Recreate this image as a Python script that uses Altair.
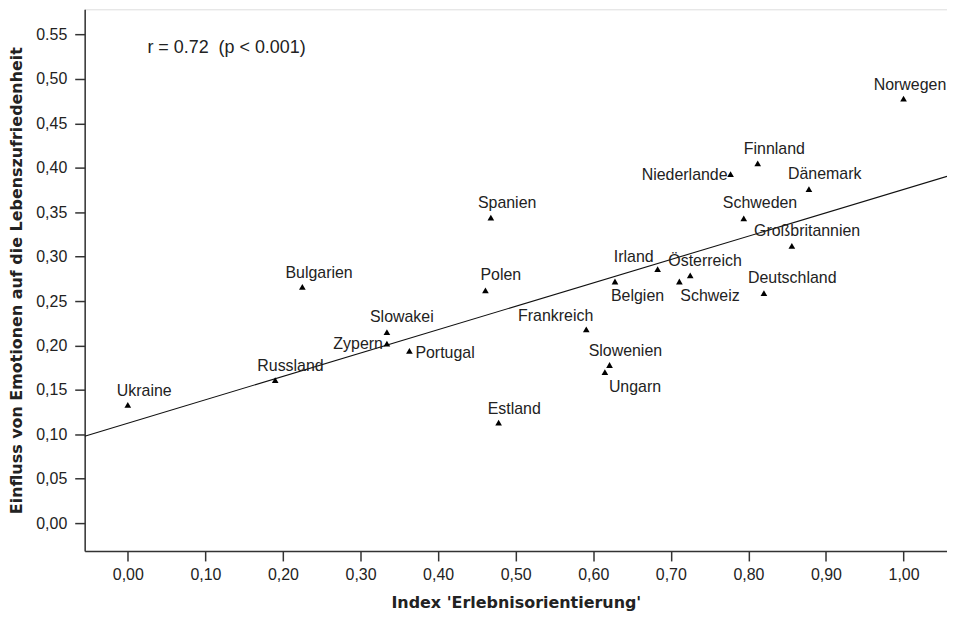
import altair as alt
import pandas as pd

countries = ["Ukraine", "Russland", "Bulgarien", "Zypern", "Slowakei", "Portugal",
             "Polen", "Spanien", "Estland", "Frankreich", "Ungarn", "Slowenien",
             "Belgien", "Irland", "Schweiz", "Österreich", "Niederlande", "Schweden",
             "Finnland", "Deutschland", "Großbritannien", "Dänemark", "Norwegen"]
index_x = [0.000, 0.190, 0.225, 0.334, 0.334, 0.363,
           0.461, 0.468, 0.478, 0.591, 0.615, 0.621,
           0.628, 0.683, 0.711, 0.725, 0.777, 0.794,
           0.812, 0.820, 0.856, 0.878, 1.000]
effect_y = [0.133, 0.161, 0.266, 0.202, 0.215, 0.194,
            0.262, 0.344, 0.113, 0.218, 0.170, 0.178,
            0.272, 0.286, 0.272, 0.279, 0.393, 0.343,
            0.405, 0.259, 0.312, 0.376, 0.478]

x_ticks = [0.0, 0.1, 0.2, 0.3, 0.4, 0.5, 0.6, 0.7, 0.8, 0.9, 1.0]
y_ticks = [0.0, 0.05, 0.10, 0.15, 0.20, 0.25, 0.30, 0.35, 0.40, 0.45, 0.50, 0.55]

fit_intercept = 0.1125
fit_slope = 0.2632
annotation = "r = 0.72 \u00a0(p < 0.001)"

x_domain = [-0.0556, 1.056]
y_domain = [-0.0314, 0.5785]

# label placement (align, dx, dy) in pixels
label_layout = {
    "Ukraine": ("left", -11, -14), "Russland": ("left", -18, -14),
    "Bulgarien": ("left", -17, -14), "Zypern": ("right", -4, 0),
    "Slowakei": ("left", -17, -15), "Portugal": ("left", 6, 2),
    "Polen": ("left", -5, -15), "Spanien": ("left", -13, -15),
    "Estland": ("left", -11, -14), "Frankreich": ("right", 7, -14),
    "Ungarn": ("left", 4, 15), "Slowenien": ("left", -21, -14),
    "Belgien": ("left", -4, 15), "Irland": ("right", -4, -12),
    "Schweiz": ("left", 1, 15), "Österreich": ("left", -22, -14),
    "Niederlande": ("right", -3, 1), "Schweden": ("left", -21, -15),
    "Finnland": ("left", -14, -14), "Deutschland": ("left", -16, -15),
    "Großbritannien": ("left", -38, -15), "Dänemark": ("left", -21, -15),
    "Norwegen": ("left", -30, -14),
}

FONT = "Liberation Sans"
TITLE_FONT = "DejaVu Sans"
INK = "#222222"
FRAME = "#333333"

df = pd.DataFrame({"country": countries, "x": index_x, "y": effect_y})
fit_df = pd.DataFrame({
    "x": x_domain,
    "y": [fit_intercept + fit_slope * v for v in x_domain],
})

xs = alt.Scale(domain=x_domain, nice=False, zero=False)
ys = alt.Scale(domain=y_domain, nice=False, zero=False)

x_axis = alt.Axis(
    values=x_ticks, title="Index 'Erlebnisorientierung'", grid=False,
    labelExpr="replace(format(datum.value, '.2f'), '.', ',')",
    tickSize=10, tickColor=FRAME, tickWidth=1.5, domainColor=FRAME, domainWidth=1.5,
    labelFont=FONT, labelFontSize=16, labelColor=INK, labelPadding=6,
    titleFont=TITLE_FONT, titleFontSize=16, titleFontWeight="bold", titleColor=INK,
    titlePadding=12,
)
y_axis = alt.Axis(
    values=y_ticks, title="Einfluss von Emotionen auf die Lebenszufriedenheit", grid=False,
    labelExpr="format(datum.value, '.2f') == '0.55' ? '0.55' : replace(format(datum.value, '.2f'), '.', ',')",
    tickSize=10, tickColor=FRAME, tickWidth=1.5, domainColor=FRAME, domainWidth=1.5,
    labelFont=FONT, labelFontSize=16, labelColor=INK, labelPadding=8,
    titleFont=TITLE_FONT, titleFontSize=16, titleFontWeight="bold", titleColor=INK,
    titlePadding=11,
)

points = alt.Chart(df).mark_point(
    shape="triangle-up", filled=True, color="#000000", size=45, opacity=1
).encode(
    x=alt.X("x:Q", scale=xs, axis=x_axis),
    y=alt.Y("y:Q", scale=ys, axis=y_axis),
)

fit = alt.Chart(fit_df).mark_line(color="#111111", strokeWidth=1.1, clip=True).encode(
    x=alt.X("x:Q", scale=xs),
    y=alt.Y("y:Q", scale=ys),
)

label_layers = []
for name, (align, dx, dy) in label_layout.items():
    label_layers.append(
        alt.Chart(df).transform_filter(alt.datum.country == name).mark_text(
            align=align, baseline="middle", dx=dx, dy=dy,
            font=FONT, fontSize=16, color=INK,
        ).encode(
            x=alt.X("x:Q", scale=xs),
            y=alt.Y("y:Q", scale=ys),
            text="country:N",
        )
    )

note = alt.Chart(pd.DataFrame({"t": [annotation]})).mark_text(
    align="left", baseline="middle", font=FONT, fontSize=18, color=INK
).encode(x=alt.value(63), y=alt.value(39), text="t:N")

chart = alt.layer(fit, points, *label_layers, note).properties(
    width=866, height=544,
    autosize=alt.AutoSizeParams(type="none"),
    padding={"left": 77, "top": 0, "right": 0, "bottom": 62},
).configure_view(
    stroke=FRAME, strokeWidth=1.5
).configure(background="white")

chart.save("out.html", embed_options={"renderer": "svg", "actions": False})
